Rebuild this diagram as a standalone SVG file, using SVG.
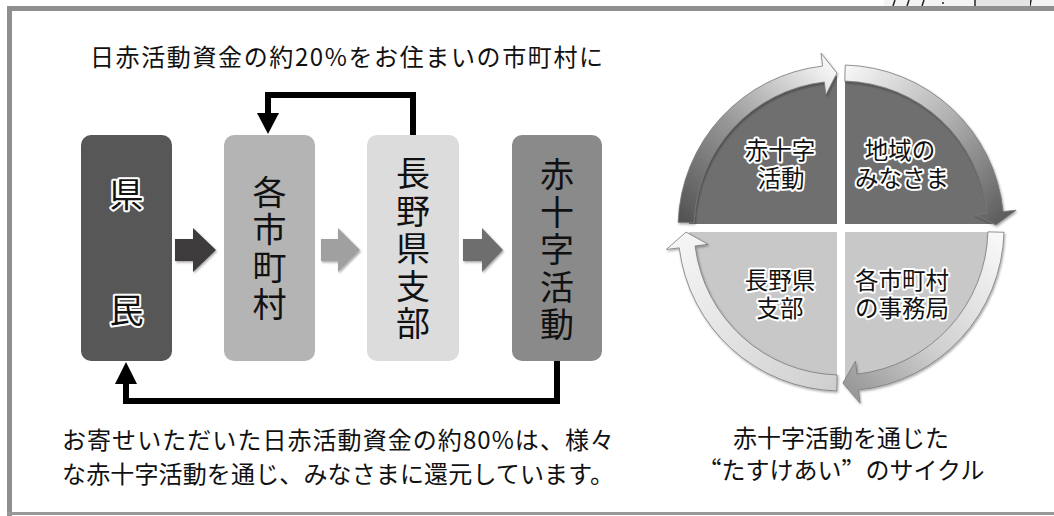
<svg xmlns="http://www.w3.org/2000/svg" width="1054" height="516" viewBox="0 0 1054 516">
<defs>
<style>
text{font-family:"Noto Sans CJK JP","Noto Sans",sans-serif;}
.plain{font-size:24px;fill:#111;}
.vert{font-size:34px;fill:#111;text-anchor:middle;writing-mode:vertical-rl;letter-spacing:3.5px;}
.single{font-size:34px;text-anchor:middle;dominant-baseline:central;}
.halo{fill:#111;stroke:#fff;stroke-width:4px;paint-order:stroke;stroke-linejoin:round;}
.quad{font-family:"Liberation Sans","Noto Sans CJK JP",sans-serif;font-size:23.5px;text-anchor:middle;}
.conn{fill:none;stroke:#000;stroke-width:6;stroke-linejoin:miter;}
.ring{stroke:#7a7a7a;stroke-width:0.8;filter:url(#sh);}
.fw{font-feature-settings:"fwid";}
</style>
<filter id="sh" x="-20%" y="-20%" width="140%" height="140%">
<feDropShadow dx="1" dy="1.5" stdDeviation="1.2" flood-color="#000" flood-opacity="0.35"/>
</filter>
<linearGradient id="gTL" gradientUnits="userSpaceOnUse" x1="685" y1="225" x2="830" y2="70">
<stop offset="0" stop-color="#525252"/><stop offset="0.5" stop-color="#989898"/><stop offset="1" stop-color="#f4f4f4"/>
</linearGradient>
<linearGradient id="gTR" gradientUnits="userSpaceOnUse" x1="845" y1="72" x2="1000" y2="220">
<stop offset="0" stop-color="#f6f6f6"/><stop offset="0.5" stop-color="#b0b0b0"/><stop offset="1" stop-color="#5e5e5e"/>
</linearGradient>
<linearGradient id="gBR" gradientUnits="userSpaceOnUse" x1="995" y1="235" x2="850" y2="385">
<stop offset="0" stop-color="#f8f8f8"/><stop offset="0.6" stop-color="#cfcfcf"/><stop offset="1" stop-color="#9a9a9a"/>
</linearGradient>
<linearGradient id="gBL" gradientUnits="userSpaceOnUse" x1="837" y1="385" x2="688" y2="240">
<stop offset="0" stop-color="#cfcfcf"/><stop offset="1" stop-color="#f4f4f4"/>
</linearGradient>
</defs>

<g id="frame">
<rect x="884" y="0" width="170" height="6" fill="#f3f3f3"/>
<g stroke="#222" stroke-width="1.5" fill="none">
<line x1="895" y1="0" x2="893" y2="6"/>
<line x1="909" y1="0" x2="907" y2="6"/>
<line x1="924" y1="0" x2="922" y2="6"/>
<line x1="975" y1="0" x2="975" y2="6"/>
<line x1="1031" y1="0" x2="1030" y2="6"/>
</g>
<circle cx="943" cy="3" r="1" fill="#222"/>
<rect x="976" y="0" width="54" height="6" fill="#e4e4e4"/>
<rect x="7" y="6" width="1047" height="5" fill="#8f8f8f"/>
<rect x="7" y="6" width="5" height="510" fill="#8f8f8f"/>
<rect x="7" y="512" width="1047" height="3" fill="#999"/>
</g>

<g id="top-label">
<text class="plain" x="90" y="66" font-size="25" textLength="513" lengthAdjust="spacing">日赤活動資金の約20%をお住まいの市町村に</text>
</g>

<g id="node-kenmin">
<rect x="81" y="135" width="91" height="226" rx="10" fill="#575757"/>
<text class="single halo" x="126.5" y="192">県</text>
<text class="single halo" x="126.5" y="308">民</text>
</g>

<g id="node-shichoson">
<rect x="224" y="135" width="91" height="226" rx="10" fill="#b4b4b4"/>
<text class="vert" x="269.5" y="250">各市町村</text>
</g>

<g id="node-shibu">
<rect x="367" y="135" width="92" height="226" rx="10" fill="#dcdcdc"/>
<text class="vert" x="413" y="250">長野県支部</text>
</g>

<g id="node-katsudo">
<rect x="512" y="135" width="90" height="226" rx="10" fill="#8a8a8a"/>
<text class="vert" x="557" y="251">赤十字活動</text>
</g>

<g id="connectors">
<path d="M175,239 H193 V228 L216,250 L193,272 V261 H175 Z" fill="#3e3a3a" filter="url(#sh)"/>
<path d="M321,239 H338 V228 L360,250 L338,272 V261 H321 Z" fill="#a0a0a0" filter="url(#sh)"/>
<path d="M463,239 H482 V228 L503,250 L482,272 V261 H463 Z" fill="#6e6e6e" filter="url(#sh)"/>
<path class="conn" d="M413,135 V95 H268 V114"/>
<path d="M257,113 L279,113 L268,134 Z" fill="#000"/>
<path class="conn" d="M557,361 V401 H126 V383"/>
<path d="M115,384 L137,384 L126,362 Z" fill="#000"/>
</g>

<g id="bottom-label">
<text class="plain" x="62" y="449" textLength="552" lengthAdjust="spacing">お寄せいただいた日赤活動資金の約80%は、様々</text>
<text class="plain" x="62" y="483" textLength="552" lengthAdjust="spacing">な赤十字活動を通じ、みなさまに還元しています。</text>
</g>

<g id="cycle">
<g id="q-katsudo">
<path d="M837,224 H689.05 A152,152 0 0 1 837,76.05 Z" fill="#6f6f6f"/>
<text class="quad halo" x="780" y="159">赤十字</text>
<text class="quad halo" x="781" y="187">活動</text>
</g>
<g id="q-minasama">
<path d="M845,224 V76.05 A152,152 0 0 1 992.95,224 Z" fill="#6f6f6f"/>
<text class="quad halo" x="900" y="159">地域の</text>
<text class="quad halo" x="902" y="187">みなさま</text>
</g>
<g id="q-jimukyoku">
<path d="M845,232 H992.95 A152,152 0 0 1 845,379.95 Z" fill="#c8c8c8"/>
<text class="quad halo" x="902" y="289">各市町村</text>
<text class="quad halo" x="902" y="317">の事務局</text>
</g>
<g id="q-shibu">
<path d="M837,232 V379.95 A152,152 0 0 1 689.05,232 Z" fill="#c8c8c8"/>
<text class="quad halo" x="780" y="289">長野県</text>
<text class="quad halo" x="780" y="317">支部</text>
</g>
<g id="ring-arrows">
<path class="ring" fill="url(#gTL)" d="M678.10,222.31 A163,163 0 0 1 822.55,66.05 L821.08,53.13 L836.94,73.05 L825.83,94.86 L824.36,81.95 A147,147 0 0 0 694.09,222.87 Z"/>
<path class="ring" fill="url(#gTR)" d="M845.27,65.06 A163,163 0 0 1 1003.17,211.53 L1016.10,210.21 L995.97,225.02 L974.31,214.46 L987.25,213.14 A147,147 0 0 0 844.85,81.05 Z"/>
<path class="ring" fill="url(#gBR)" d="M1003.94,232.27 A163,163 0 0 1 858.60,390.05 L860.01,402.97 L842.89,382.99 L855.47,361.22 L856.88,374.14 A147,147 0 0 0 987.95,231.85 Z"/>
<path class="ring" fill="url(#gBL)" d="M836.73,390.94 A163,163 0 0 1 679.21,247.86 L666.31,249.45 L686.05,232.06 L708.00,244.33 L695.10,245.91 A147,147 0 0 0 837.15,374.95 Z"/>
</g>
</g>

<g id="caption">
<text class="plain" x="841" y="447" font-size="25" text-anchor="middle">赤十字活動を通じた</text>
<text class="plain fw" x="841" y="479" font-size="25" text-anchor="middle">“たすけあい”のサイクル</text>
</g>
</svg>
